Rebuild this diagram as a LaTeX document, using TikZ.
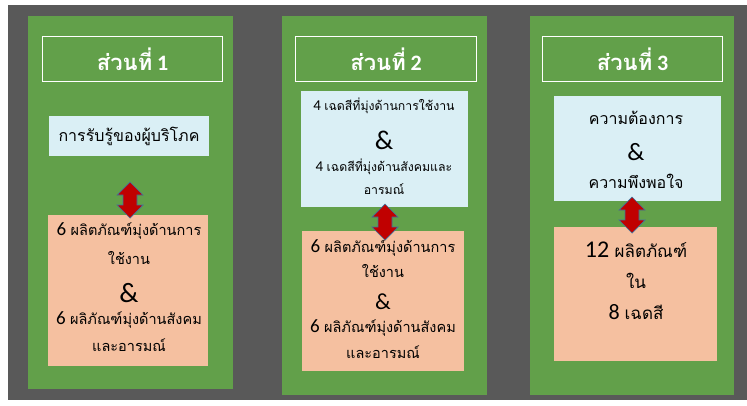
\documentclass[tikz,border=0pt]{standalone}
\usepackage{fontspec}
\setmainfont{Carlito}
\newfontfamily\thf[Script=Thai]{Loma}
\definecolor{bggrey}{HTML}{595959}
\definecolor{pgreen}{HTML}{62A04A}
\definecolor{lblue}{HTML}{DAEFF5}
\definecolor{salmon}{HTML}{F5C0A0}
\definecolor{ared}{HTML}{C00000}
\definecolor{aline}{HTML}{41719C}
\tikzset{
  panel/.style={fill=pgreen, draw=none, inner sep=0pt},
  titlebox/.style={draw=white, line width=1.3pt, inner sep=0pt},
  bluebox/.style={fill=lblue, draw=none, inner sep=0pt},
  salbox/.style={fill=salmon, draw=none, inner sep=0pt},
  ttl/.style={text=white, font=\fontsize{22}{24}\selectfont\bfseries, inner sep=0pt},
  txt/.style={text=black, inner sep=0pt, align=center},
  updown/.style={fill=ared, draw=aline, line width=0.7pt, line join=miter},
}
\newcommand{\ts}[1]{{\thf #1}}
% double arrow: #1 = centre coordinate name
\newcommand{\udarrow}[1]{%
  \path[updown, shift={(#1)}] (0,-18) -- (13,-5) -- (7,-5) -- (7,5) -- (13,5) -- (0,18)
     -- (-13,5) -- (-7,5) -- (-7,-5) -- (-13,-5) -- cycle;}
\begin{document}
\begin{tikzpicture}[x=1pt,y=-1pt]
\useasboundingbox (0,0) rectangle (747,405);
\fill[bggrey] (8,5) rectangle (747,400);
% panels
\node[panel, minimum width=205pt, minimum height=373pt, anchor=north west] (p1) at (28,16) {};
\node[panel, minimum width=205pt, minimum height=379pt, anchor=north west] (p2) at (282,16) {};
\node[panel, minimum width=204pt, minimum height=379pt, anchor=north west] (p3) at (530,16) {};
% titles
\node[titlebox, minimum width=180pt, minimum height=45pt, anchor=north west] (t1) at (42,36) {};
\node[titlebox, minimum width=181pt, minimum height=45pt, anchor=north west] (t2) at (295,36) {};
\node[titlebox, minimum width=180pt, minimum height=45pt, anchor=north west] (t3) at (542,36) {};
\node[ttl] (tt1) at (t1.center) {\ts{ส่วนที่} 1};
\node[ttl] (tt2) at (t2.center) {\ts{ส่วนที่} 2};
\node[ttl] (tt3) at (t3.center) {\ts{ส่วนที่} 3};
% blue boxes
\node[bluebox, minimum width=160pt, minimum height=40pt, anchor=north west] (b1) at (49,116) {};
\node[bluebox, minimum width=167pt, minimum height=116pt, anchor=north west] (b2) at (301,91) {};
\node[bluebox, minimum width=167pt, minimum height=105pt, anchor=north west] (b3) at (554,96) {};
% salmon boxes
\node[salbox, minimum width=160pt, minimum height=151pt, anchor=north west] (s1) at (48,215) {};
\node[salbox, minimum width=162pt, minimum height=140pt, anchor=north west] (s2) at (302,231) {};
\node[salbox, minimum width=163pt, minimum height=134pt, anchor=north west] (s3) at (554,227) {};
% texts panel 1
\node[txt, font=\fontsize{16}{18}\selectfont] (b1t) at (129,136) {\ts{การรับรู้ของผู้บริโภค}};
\node[txt, font=\fontsize{14.5}{16}\selectfont] (s1a) at (129,231) {\fontsize{19}{19}\selectfont 6 \fontsize{14.5}{16}\selectfont\ts{ผลิตภัณฑ์มุ่งด้านการ}};
\node[txt, font=\fontsize{14.5}{16}\selectfont] (s1b) at (129,258) {\ts{ใช้งาน}};
\node[txt, font=\fontsize{28}{28}\selectfont] (s1c) at (129,293) {\&};
\node[txt, font=\fontsize{14.5}{16}\selectfont] (s1d) at (129,320) {\fontsize{19}{19}\selectfont 6 \fontsize{14.5}{16}\selectfont\ts{ผลิภัณฑ์มุ่งด้านสังคม}};
\node[txt, font=\fontsize{14.5}{16}\selectfont] (s1e) at (129,345) {\ts{และอารมณ์}};
% texts panel 2
\node[txt, font=\fontsize{12.3}{14}\selectfont] (b2a) at (384,106) {\fontsize{15}{15}\selectfont 4 \fontsize{12.3}{14}\selectfont\ts{เฉดสีที่มุ่งด้านการใช้งาน}};
\node[txt, font=\fontsize{27}{27}\selectfont] (b2b) at (384,140) {\&};
\node[txt, font=\fontsize{12.3}{14}\selectfont] (b2c) at (384,167) {\fontsize{15}{15}\selectfont 4 \fontsize{12.3}{14}\selectfont\ts{เฉดสีที่มุ่งด้านสังคมและ}};
\node[txt, font=\fontsize{12.3}{14}\selectfont] (b2d) at (384,189) {\ts{อารมณ์}};
\node[txt, font=\fontsize{14.5}{16}\selectfont] (s2a) at (383,248) {\fontsize{19}{19}\selectfont 6 \fontsize{14.5}{16}\selectfont\ts{ผลิตภัณฑ์มุ่งด้านการ}};
\node[txt, font=\fontsize{14.5}{16}\selectfont] (s2b) at (383,271) {\ts{ใช้งาน}};
\node[txt, font=\fontsize{23}{23}\selectfont] (s2c) at (383,302) {\&};
\node[txt, font=\fontsize{14.5}{16}\selectfont] (s2d) at (383,328) {\fontsize{19}{19}\selectfont 6 \fontsize{14.5}{16}\selectfont\ts{ผลิภัณฑ์มุ่งด้านสังคม}};
\node[txt, font=\fontsize{14.5}{16}\selectfont] (s2e) at (383,352) {\ts{และอารมณ์}};
% texts panel 3
\node[txt, font=\fontsize{16}{18}\selectfont] (b3a) at (636,118) {\ts{ความต้องการ}};
\node[txt, font=\fontsize{25}{25}\selectfont] (b3b) at (636,152) {\&};
\node[txt, font=\fontsize{16}{18}\selectfont] (b3c) at (636,181) {\ts{ความพึงพอใจ}};
\node[txt, font=\fontsize{24}{24}\selectfont] (s3a) at (636,250) {12 \fontsize{17}{19}\selectfont\ts{ผลิตภัณฑ์}};
\node[txt, font=\fontsize{17}{19}\selectfont] (s3b) at (636,281) {\ts{ใน}};
\node[txt, font=\fontsize{22}{22}\selectfont] (s3c) at (636,312) {8 \fontsize{17}{19}\selectfont\ts{เฉดสี}};
% arrows
\coordinate (a1) at (130,200);
\coordinate (a2) at (385,222);
\coordinate (a3) at (632,215);
\udarrow{a1}
\udarrow{a2}
\udarrow{a3}
\end{tikzpicture}
\end{document}
